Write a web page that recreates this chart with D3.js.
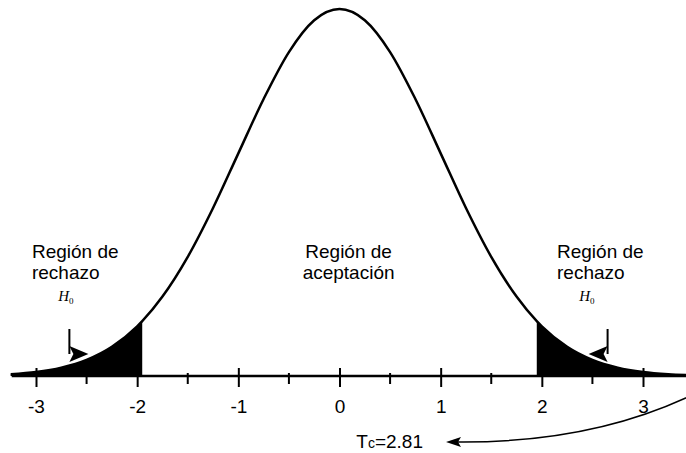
<!DOCTYPE html>
<html>
<head>
<meta charset="utf-8">
<script src="https://d3js.org/d3.v7.min.js"></script>
<style>
  body { margin: 0; background: #fff; }
  text { font-family: "Liberation Sans", Arial, sans-serif; fill: #000; }
</style>
</head>
<body>
<svg></svg>
<script>
// z values and the curve height (standard normal shape)
var zValues = [-3.25, -3, -2.75, -2.5, -2.25, -2, -1.95, -1.75, -1.5, -1.25, -1, -0.75, -0.5, -0.25,
               0, 0.25, 0.5, 0.75, 1, 1.25, 1.5, 1.75, 1.95, 2, 2.25, 2.5, 2.75, 3, 3.25, 3.5];
var density = [0.0020, 0.0044, 0.0091, 0.0175, 0.0317, 0.0540, 0.0596, 0.0863, 0.1295, 0.1826, 0.2420, 0.3011, 0.3521, 0.3867,
               0.3989, 0.3867, 0.3521, 0.3011, 0.2420, 0.1826, 0.1295, 0.0863, 0.0596, 0.0540, 0.0317, 0.0175, 0.0091, 0.0044, 0.0020, 0.0009];

// critical value that bounds the shaded tails
var zCrit = 1.95;

var majorTicks = [-3, -2, -1, 0, 1, 2, 3];
var minorTicks = [-2.5, -1.5, -0.5, 0.5, 1.5, 2.5];
var tickLabels = ["-3", "-2", "-1", "0", "1", "2", "3"];

var width = 686, height = 453;

var svg = d3.select("svg")
    .attr("width", width)
    .attr("height", height);

var x = d3.scaleLinear()
    .domain([-3, 3])
    .range([36, 643]);

var y = d3.scaleLinear()
    .domain([0, 0.3989])
    .range([376, 9]);

var points = zValues.map(function(z, i) { return {z: z, d: density[i]}; });

// shaded rejection tails
var area = d3.area()
    .x(function(p) { return x(p.z); })
    .y0(y(0))
    .y1(function(p) { return y(p.d); })
    .curve(d3.curveMonotoneX);

svg.append("path")
    .datum(points.filter(function(p) { return p.z <= -zCrit; }))
    .attr("d", area)
    .attr("fill", "#000");

svg.append("path")
    .datum(points.filter(function(p) { return p.z >= zCrit; }))
    .attr("d", area)
    .attr("fill", "#000");

// the bell curve itself
var line = d3.line()
    .x(function(p) { return x(p.z); })
    .y(function(p) { return y(p.d); })
    .curve(d3.curveMonotoneX);

svg.append("path")
    .datum(points)
    .attr("d", line)
    .attr("fill", "none")
    .attr("stroke", "#000")
    .attr("stroke-width", 2.5);

// axis line across the whole picture
svg.append("line")
    .attr("x1", x(-3.24)).attr("x2", width)
    .attr("y1", y(0)).attr("y2", y(0))
    .attr("stroke", "#000")
    .attr("stroke-width", 2.5);

// major ticks with labels
var axis = svg.append("g")
    .attr("transform", "translate(0," + y(0) + ")")
    .call(d3.axisBottom(x)
        .tickValues(majorTicks)
        .tickFormat(function(d, i) { return tickLabels[i]; })
        .tickSizeOuter(0));

axis.select(".domain").remove();
axis.selectAll(".tick line")
    .attr("y1", -8).attr("y2", 11)
    .attr("stroke", "#000")
    .attr("stroke-width", 2);
axis.selectAll(".tick text")
    .attr("y", 37)
    .attr("dy", 0)
    .style("font-size", "19px")
    .style("font-family", "'Liberation Sans', Arial, sans-serif")
    .attr("fill", "#000");

// minor ticks
svg.selectAll(".minor")
    .data(minorTicks)
    .enter()
    .append("line")
    .attr("class", "minor")
    .attr("x1", function(d) { return x(d); })
    .attr("x2", function(d) { return x(d); })
    .attr("y1", y(0) - 3)
    .attr("y2", y(0) + 8)
    .attr("stroke", "#000")
    .attr("stroke-width", 2);

// region labels
function label(xPos, anchor, lines) {
    var t = svg.append("text")
        .attr("text-anchor", anchor)
        .style("font-size", "19px");
    lines.forEach(function(s, i) {
        t.append("tspan").attr("x", xPos).attr("y", 258 + i * 21).text(s);
    });
}
label(x(-3.04), "start", ["Región de", "rechazo"]);
label(x(0.09), "middle", ["Región de", "aceptación"]);
label(x(2.15), "start", ["Región de", "rechazo"]);

// H0 marks with the small hooked arrows
function h0(zPos) {
    var t = svg.append("text")
        .attr("x", x(zPos))
        .attr("y", 301)
        .style("font-family", "'Liberation Serif', 'Times New Roman', serif")
        .style("font-style", "italic")
        .style("font-size", "15px");
    t.append("tspan").text("H");
    t.append("tspan").attr("dy", 3).style("font-size", "9px").style("font-style", "normal").text("0");
}
h0(-2.78);
h0(2.37);

function hook(zPos, dir) {
    var xs = x(zPos);
    svg.append("line")
        .attr("x1", xs).attr("x2", xs)
        .attr("y1", 329).attr("y2", 354)
        .attr("stroke", "#000")
        .attr("stroke-width", 2);
    svg.append("path")
        .attr("d", "M" + (xs + dir * 19) + ",354 L" + xs + ",346 L" + (xs + dir * 4) + ",354 L" + xs + ",362 Z")
        .attr("fill", "#000");
}
hook(-2.67, 1);
hook(2.65, -1);

// Tc annotation with curved arrow
var tc = svg.append("text")
    .attr("x", 423)
    .attr("y", 448)
    .attr("text-anchor", "end")
    .style("font-size", "19px");
tc.append("tspan").text("T");
tc.append("tspan").style("font-size", "14px").text("c");
tc.append("tspan").text("=2.81");

svg.append("path")
    .attr("d", "M" + (width + 4) + ",396 Q590,443 458,442")
    .attr("fill", "none")
    .attr("stroke", "#000")
    .attr("stroke-width", 1.5);

svg.append("path")
    .attr("d", "M446,442 L461,437 L458,442 L461,447 Z")
    .attr("fill", "#000");
</script>
</body>
</html>
